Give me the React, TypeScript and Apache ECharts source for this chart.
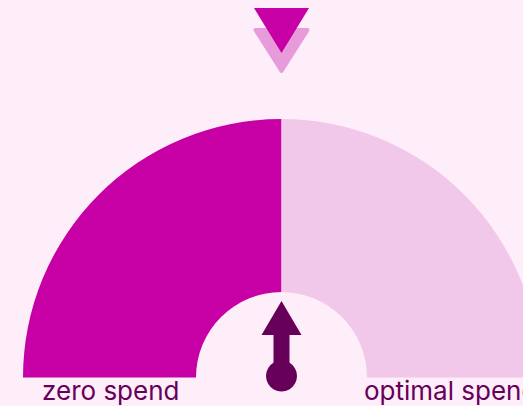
import React, { useEffect, useRef } from "react";
import * as echarts from "echarts";

const categories = ["zero spend", "optimal spend"];
const segmentValues = [50, 50];
const needleValue = 50; // percent along the gauge

const BG = "#fdeef9";
const DARK = "#c700a6";
const LIGHT = "#f1c8ea";
const LIGHT_MARK = "#e89bda";
const NEEDLE = "#660059";

export default function App() {
  const ref = useRef<HTMLDivElement>(null);
  useEffect(() => {
    if (!ref.current) return;
    const chart = echarts.init(ref.current, null, { renderer: "svg" });
    const cx = 281.5;
    const cy = 377.5;
    const rOut = 258.5;
    const rIn = 85.5;
    const total = segmentValues.reduce((a, b) => a + b, 0);
    const needleAngle = (needleValue / total) * 180 - 90; // degrees from vertical
    const needleRot = -(needleAngle * Math.PI) / 180;
    chart.setOption({
      animation: false,
      backgroundColor: BG,
      series: [
        {
          type: "pie",
          center: [cx, cy],
          radius: [rIn, rOut],
          startAngle: 180,
          endAngle: 0,
          clockwise: true,
          silent: true,
          label: { show: false },
          labelLine: { show: false },
          itemStyle: { borderWidth: 0 },
          data: categories.map((c, i) => ({
            name: c,
            value: segmentValues[i],
            itemStyle: { color: i === 0 ? DARK : LIGHT },
          })),
        },
      ],
      graphic: [
        {
          type: "polygon",
          shape: { points: [[255.5, 30], [307.5, 30], [281.5, 71]] },
          style: { fill: LIGHT_MARK, stroke: LIGHT_MARK, lineWidth: 4, lineJoin: "round" },
        },
        {
          type: "polygon",
          shape: { points: [[254, 8], [309, 8], [281.5, 53]] },
          style: { fill: DARK },
        },
        {
          type: "group",
          x: cx,
          y: 376,
          rotation: needleRot,
          children: [
            {
              type: "rect",
              shape: { x: -8, y: -42, width: 16, height: 42 },
              style: { fill: NEEDLE },
            },
            {
              type: "polygon",
              shape: { points: [[-20, -41], [20, -41], [0, -75]] },
              style: { fill: NEEDLE },
            },
            {
              type: "circle",
              shape: { cx: 0, cy: 0, r: 15.5 },
              style: { fill: NEEDLE },
            },
          ],
        },
        {
          type: "text",
          x: 42,
          y: 390,
          style: {
            text: categories[0],
            fill: NEEDLE,
            font: "26px Inter",
            verticalAlign: "middle",
            align: "left",
          },
        },
        {
          type: "text",
          x: 364,
          y: 390,
          style: {
            text: categories[1],
            fill: NEEDLE,
            font: "26px Inter",
            verticalAlign: "middle",
            align: "left",
          },
        },
      ],
    });
    return () => chart.dispose();
  }, []);
  return (
    <div
      ref={ref}
      style={{ position: "absolute", left: 0, top: 0, width: 523, height: 406 }}
    />
  );
}
